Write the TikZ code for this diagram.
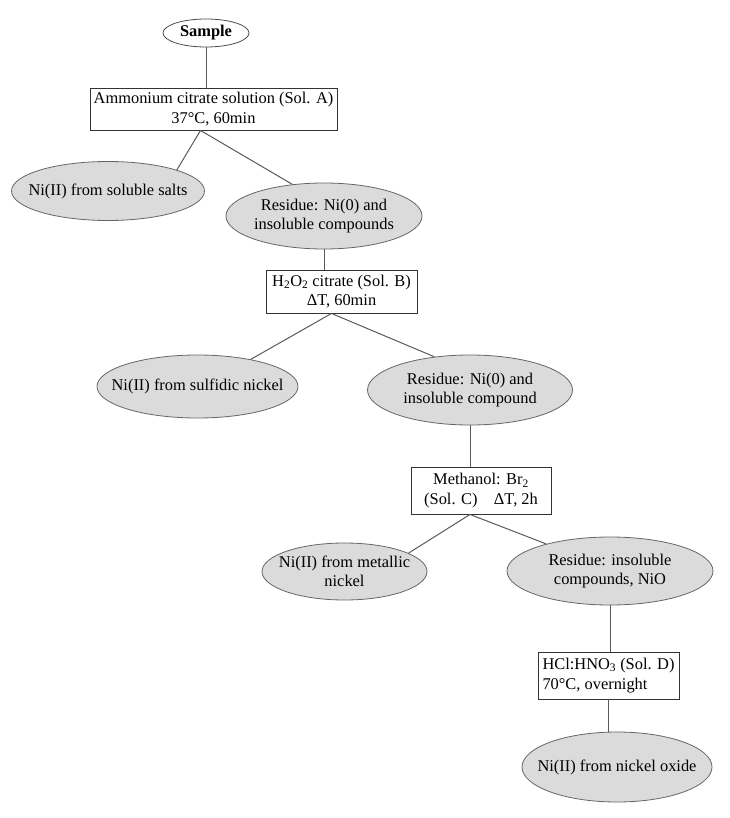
\documentclass[tikz,border=0pt]{standalone}
\usepackage{fontspec}
\setmainfont{Liberation Serif}
\usetikzlibrary{shapes.geometric}

\begin{document}
\begin{tikzpicture}[x=1pt,y=-1pt,font=\fontsize{16.4}{19.5}\selectfont,
  solbox/.style={draw=black!80,fill=white,line width=0.9pt,inner sep=1pt,align=center},
  frac/.style={ellipse,draw=black!60,fill=black!14,line width=0.8pt,inner xsep=-15pt,inner ysep=0pt,align=center},
  link/.style={draw=black!65,line width=1pt}]
\useasboundingbox (0,0) rectangle (729,818);
\node[ellipse,draw=black!70,fill=white,line width=0.8pt,inner sep=0pt,minimum width=86,minimum height=28,font=\fontsize{16.4}{19.5}\selectfont\bfseries] (sample) at (206,33) {Sample};
\node[solbox,minimum width=247,minimum height=42] (solA) at (213.5,109) {Ammonium citrate solution (Sol. A)\\[1pt]37°C, 60min};
\node[frac,minimum width=193,minimum height=59] (soluble) at (108,191) {Ni(II) from soluble salts};
\node[frac,minimum width=196,minimum height=66] (res1) at (324,216) {Residue: Ni(0) and\\insoluble compounds};
\node[solbox,minimum width=151,minimum height=43] (solB) at (341.5,291.5) {H\textsubscript{2}O\textsubscript{2} citrate (Sol. B)\\ΔT, 60min};
\node[frac,minimum width=201,minimum height=63] (sulf) at (197.5,386.5) {Ni(II) from sulfidic nickel};
\node[frac,minimum width=205,minimum height=70] (res2) at (470,390) {Residue: Ni(0) and\\insoluble compound};
\node[solbox,minimum width=140,minimum height=47] (solC) at (481,490.5) {Methanol: Br\textsubscript{2}\\(Sol. C)\quad ΔT, 2h};
\node[frac,minimum width=165,minimum height=57] (metal) at (344.5,571.5) {Ni(II) from metallic\\nickel};
\node[frac,minimum width=206,minimum height=68] (res3) at (610,571) {Residue: insoluble\\compounds, NiO};
\node[solbox,align=left,minimum width=141,minimum height=47] (solD) at (608.5,675.5) {HCl:HNO\textsubscript{3} (Sol. D)\\[1pt]70°C, overnight};
\node[frac,minimum width=190,minimum height=70] (oxide) at (617,767) {Ni(II) from nickel oxide};

% splitting points under the boxes
\coordinate (splitA) at ([xshift=-13pt]solA.south);
\coordinate (splitB) at ([xshift=-10pt]solB.south);
\coordinate (splitC) at ([xshift=-11pt]solC.south);

\draw[link] (sample) -- (sample |- solA.north);
\draw[link] (splitA) -- (soluble.17);
\draw[link] (splitA) -- (res1.135);
\draw[link] (res1) -- (res1 |- solB.north);
\draw[link] (splitB) -- (sulf.27);
\draw[link] (splitB) -- (res2.137);
\draw[link] (res2) -- (res2 |- solC.north);
\draw[link] (splitC) -- (metal.16);
\draw[link] (splitC) -- (res3.157);
\draw[link] (res3) -- (res3 |- solD.north);
\draw[link] (solD) -- (solD |- oxide.north);
\end{tikzpicture}
\end{document}
